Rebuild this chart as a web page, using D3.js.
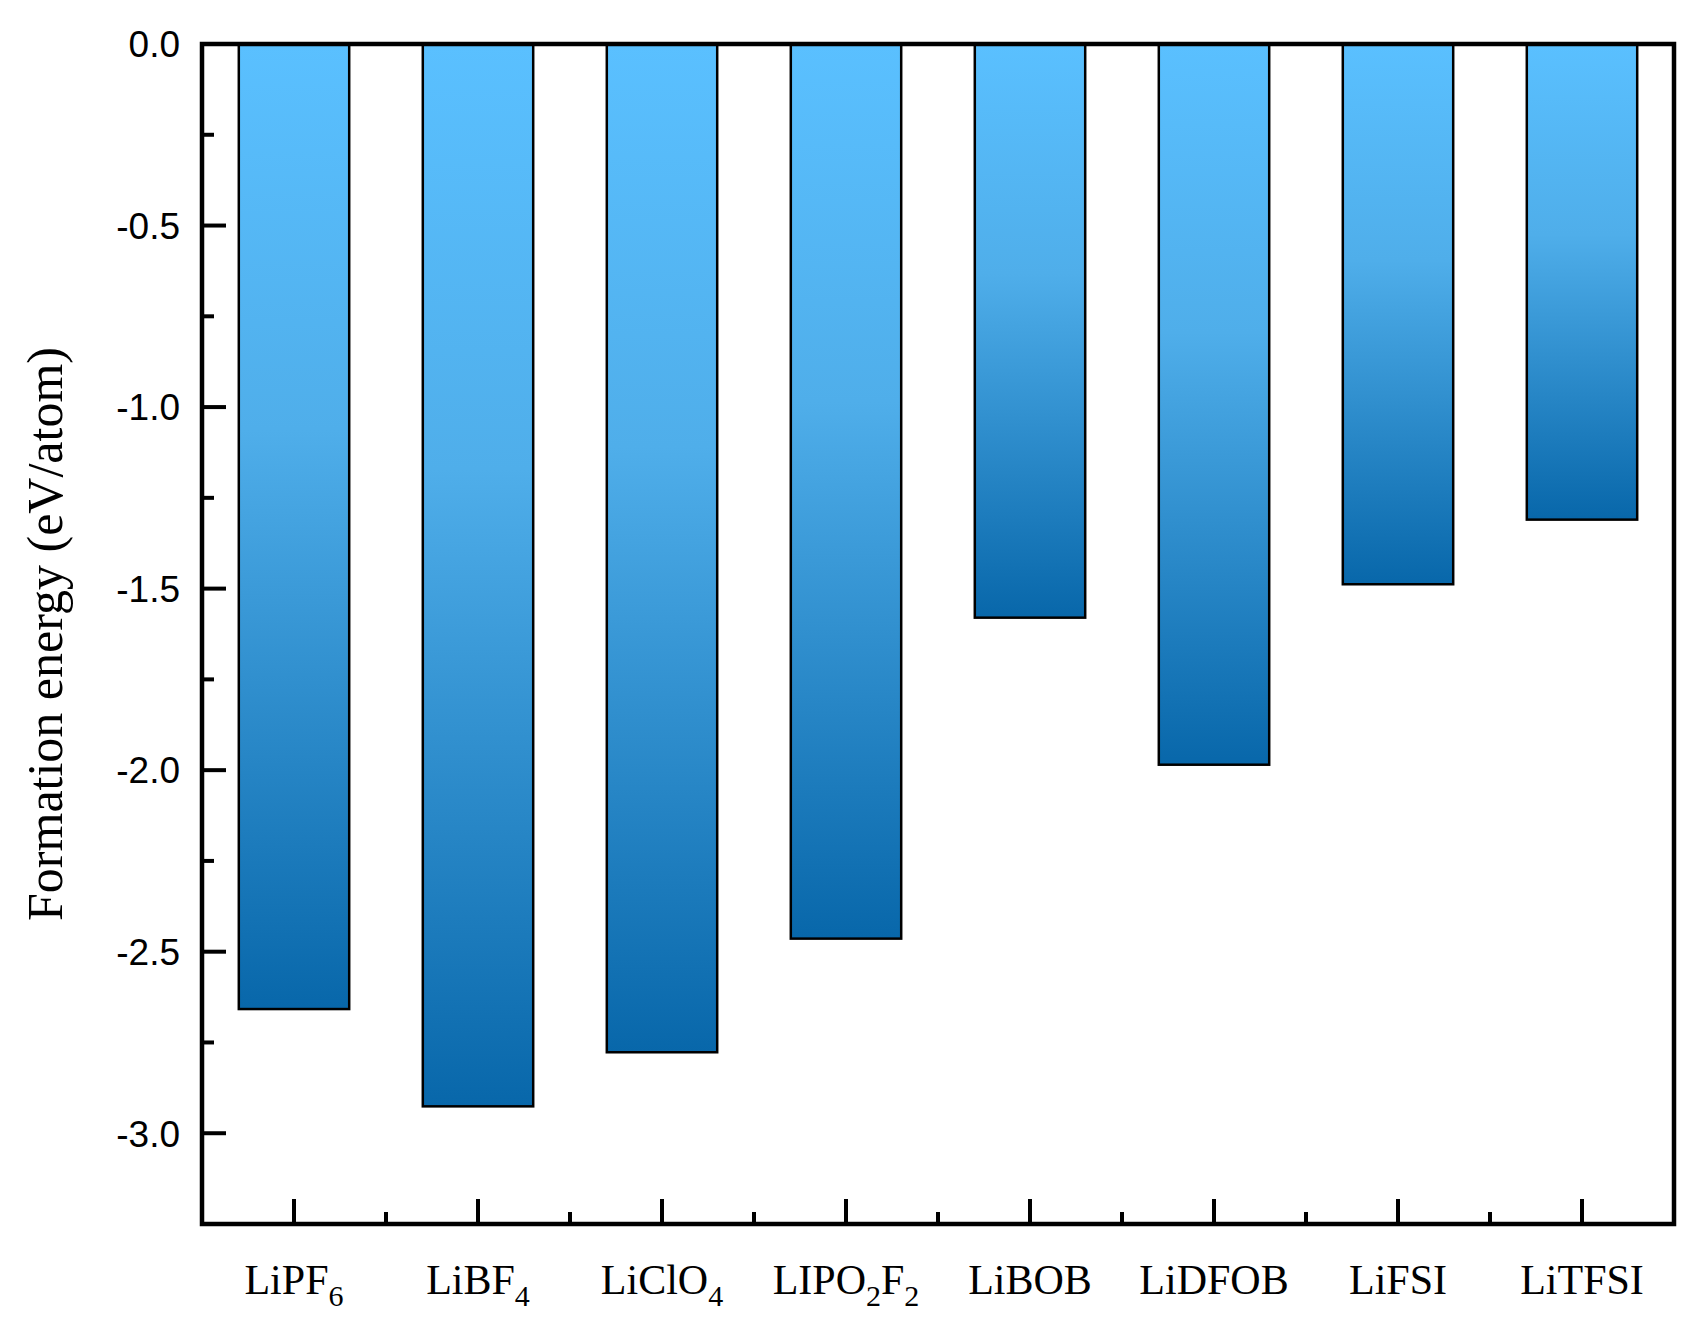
<!DOCTYPE html><html><head><meta charset="utf-8"><script src="https://cdn.jsdelivr.net/npm/d3@7"></script>
<style>body{margin:0;background:#fff}</style></head><body><svg id="c" width="1685" height="1329"></svg>
<script>
const categories=[["LiPF","6",""],["LiBF","4",""],["LiClO","4",""],["LIPO","2","F","2"],["LiBOB"],["LiDFOB"],["LiFSI"],["LiTFSI"]];
const values=[-2.658,-2.926,-2.777,-2.464,-1.580,-1.985,-1.488,-1.310];
const yTicks=[0,-0.5,-1.0,-1.5,-2.0,-2.5,-3.0];
const svg=d3.select("#c");
const L=202,R=1674,T=44,B=1224;
const x=d3.scaleBand().domain(d3.range(8)).range([L,R]).paddingInner(0.4).paddingOuter(0.2);
const xb=d3.scaleBand().domain(d3.range(8)).range([L,R]);
const y=d3.scaleLinear().domain([0,-3.25]).range([T,B]);
const defs=svg.append("defs");
const g=defs.append("linearGradient").attr("id","gr").attr("x1",0).attr("y1",0).attr("x2",0).attr("y2",1);
g.append("stop").attr("offset",0).attr("stop-color","#5AC0FF");
g.append("stop").attr("offset",0.4).attr("stop-color","#4FAEEA");
g.append("stop").attr("offset",1).attr("stop-color","#0867AA");
svg.selectAll("rect.b").data(values).join("rect").attr("class","b")
 .attr("x",(d,i)=>x(i)).attr("width",x.bandwidth()).attr("y",y(0)).attr("height",d=>y(d)-y(0))
 .attr("fill","url(#gr)").attr("stroke","#000").attr("stroke-width",2.5);
// frame
svg.append("rect").attr("x",L).attr("y",T).attr("width",R-L).attr("height",B-T).attr("fill","none").attr("stroke","#000").attr("stroke-width",4.5);
// y ticks
const yax=svg.append("g");
yTicks.forEach(v=>{yax.append("line").attr("x1",L).attr("x2",L+24).attr("y1",y(v)).attr("y2",y(v)).attr("stroke","#000").attr("stroke-width",4);
 yax.append("text").attr("x",L-22).attr("y",y(v)).attr("dy","0.36em").attr("text-anchor","end").attr("font-family","Liberation Sans, Arial").attr("font-size",37).text(v.toFixed(1));});
d3.range(-0.25,-3.3,-0.5).forEach(v=>yax.append("line").attr("x1",L).attr("x2",L+12).attr("y1",y(v)).attr("y2",y(v)).attr("stroke","#000").attr("stroke-width",4));
// x ticks
d3.range(8).forEach(i=>{const cx=x(i)+x.bandwidth()/2;
 svg.append("line").attr("x1",cx).attr("x2",cx).attr("y1",B).attr("y2",B-25).attr("stroke","#000").attr("stroke-width",4);
 if(i>0)svg.append("line").attr("x1",xb(i)).attr("x2",xb(i)).attr("y1",B).attr("y2",B-12).attr("stroke","#000").attr("stroke-width",4);
 const t=svg.append("text").attr("x",cx).attr("y",B+70).attr("text-anchor","middle").attr("font-family","Liberation Serif, Times New Roman").attr("font-size",42);
 const c=categories[i];
 c.forEach((s,k)=>{if(!s)return;const sp=t.append("tspan").text(s);
   if(k%2==1){sp.attr("font-size",30).attr("dy",12);}else if(k>0){sp.attr("dy",-12);}});
});
svg.append("text").attr("transform",`translate(62,${(T+B)/2}) rotate(-90)`).attr("text-anchor","middle").attr("font-family","Liberation Serif, Times New Roman").attr("font-size",50).text("Formation energy (eV/atom)");
</script></body></html>
